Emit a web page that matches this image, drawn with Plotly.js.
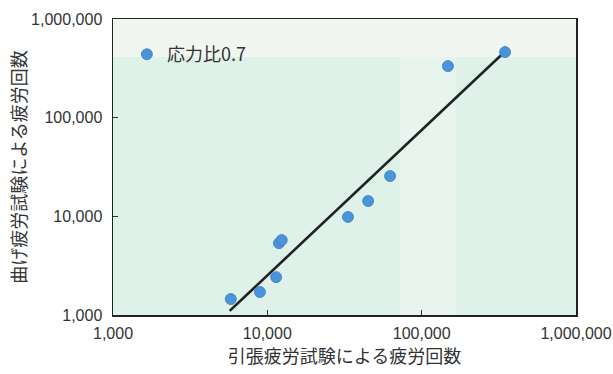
<!DOCTYPE html>
<html>
<head>
<meta charset="utf-8">
<script src="https://cdn.plot.ly/plotly-3.0.1.min.js"></script>
<style>
  html, body { margin: 0; padding: 0; background: #ffffff; }
  #chart { width: 613px; height: 374px; }
</style>
</head>
<body>
<div id="chart"></div>
<script>
// Data (log-log)
var seriesName = '応力比0.7';
var tensileCycles = [5800, 8950, 11400, 11900, 12400, 33300, 45000, 62400, 148000, 347000];
var bendingCycles = [1450, 1710, 2420, 5350, 5750, 9850, 14300, 25600, 333000, 462000];
var fitX = [5700, 340000];
var fitY = [1100, 455000];
var tickVals = [1000, 10000, 100000, 1000000];
var tickText = ['1,000', '10,000', '100,000', '1,000,000'];
var xTitle = '引張疲労試験による疲労回数';
var yTitle = '曲げ疲労試験による疲労回数';

var traces = [
  {
    x: fitX, y: fitY, type: 'scatter', mode: 'lines',
    line: {color: '#222222', width: 2.6},
    showlegend: false, hoverinfo: 'skip'
  },
  {
    x: tensileCycles, y: bendingCycles, type: 'scatter', mode: 'markers',
    name: seriesName,
    marker: {size: 11, color: '#4a94dc', line: {color: '#3a7cc0', width: 0.8}}
  }
];

var axisCommon = {
  type: 'log', range: [3, 6],
  tickvals: tickVals, ticktext: tickText,
  ticks: 'inside', ticklen: 5, tickcolor: '#333333', tickwidth: 1,
  showline: true, linecolor: '#222222', linewidth: 1.5, mirror: true,
  showgrid: false, zeroline: false,
  tickfont: {family: 'Liberation Sans, Arial, sans-serif', size: 16, color: '#333333'}
};

var layout = {
  width: 613, height: 374,
  margin: {l: 113, r: 37, t: 19, b: 59},
  paper_bgcolor: '#ffffff',
  plot_bgcolor: '#dff2e9',
  font: {family: 'Noto Sans CJK JP, Liberation Sans, sans-serif', color: '#333333'},
  xaxis: Object.assign({}, axisCommon, {
    title: {text: xTitle, font: {family: 'Noto Sans CJK JP', size: 18, color: '#333333'}, standoff: 8},
    ticklabelstandoff: 3
  }),
  yaxis: Object.assign({}, axisCommon, {
    automargin: true,
    title: {text: yTitle, font: {family: 'Noto Sans CJK JP', size: 18, color: '#333333'}, standoff: 0},
    ticklabelstandoff: 6
  }),
  legend: {
    x: 0.03, y: 0.88, xanchor: 'left', yanchor: 'middle',
    bgcolor: 'rgba(0,0,0,0)', borderwidth: 0,
    font: {family: 'Noto Sans CJK JP', size: 18, color: '#333333'}
  },
  shapes: [
    {type: 'rect', xref: 'paper', yref: 'paper', x0: 0, x1: 1, y0: 0.872, y1: 1,
     fillcolor: '#f1f6f0', line: {width: 0}, layer: 'below'},
    {type: 'rect', xref: 'paper', yref: 'paper', x0: 0.62, x1: 0.74, y0: 0, y1: 0.872,
     fillcolor: '#e8f5ee', line: {width: 0}, layer: 'below'}
  ]
};

Plotly.newPlot('chart', traces, layout, {displayModeBar: false, staticPlot: true});
</script>
</body>
</html>
